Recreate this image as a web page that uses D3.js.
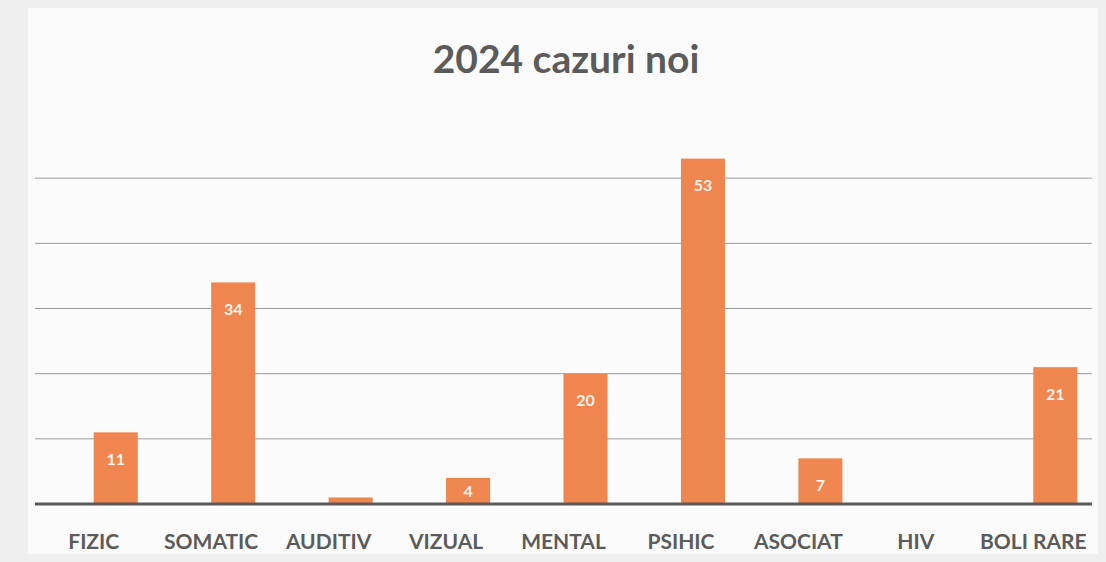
<!DOCTYPE html>
<html>
<head>
<meta charset="utf-8">
<script src="https://cdn.jsdelivr.net/npm/d3@7"></script>
<style>
  body { margin: 0; background: #f3f3f3; }
  svg { display: block; }
</style>
</head>
<body>
<svg id="chart" width="1106" height="562"></svg>
<script>
// date
const categorii = ["FIZIC", "SOMATIC", "AUDITIV", "VIZUAL", "MENTAL", "PSIHIC", "ASOCIAT", "HIV", "BOLI RARE"];
const valori = [11, 34, 1, 4, 20, 53, 7, 0, 21];
const serii = ["gol", "2024"];   // prima serie goala, de aceea barele sunt decalate la dreapta
const yTicks = [10, 20, 30, 40, 50];
const titlu = "2024 cazuri noi";

const svg = d3.select("#chart");
const W = 1106, H = 562;

// fundal scanat
svg.append("rect")
    .attr("width", W).attr("height", H)
    .attr("fill", "#efefef");
svg.append("rect")
    .attr("x", 28).attr("y", 8)
    .attr("width", W - 36).attr("height", H - 16)
    .attr("fill", "#fbfbfb");

const x = d3.scaleBand()
    .domain(categorii)
    .range([35, 1092])
    .paddingInner(0.25)
    .paddingOuter(0.125);

const xSub = d3.scaleBand()
    .domain(serii)
    .range([0, x.bandwidth()]);

const y = d3.scaleLinear()
    .domain([0, 60])
    .range([504, 113]);

// titlu
svg.append("text")
    .attr("x", 566)
    .attr("y", 73)
    .attr("text-anchor", "middle")
    .attr("font-family", "Lato, 'Open Sans', sans-serif")
    .attr("font-weight", "bold")
    .attr("font-size", 39)
    .attr("fill", "#5b5b5b")
    .text(titlu);

// linii de grila
svg.append("g")
    .selectAll("line")
    .data(yTicks)
    .join("line")
    .attr("x1", 35)
    .attr("x2", 1092)
    .attr("y1", d => y(d))
    .attr("y2", d => y(d))
    .attr("stroke", "#9c9c9c")
    .attr("stroke-width", 1);

// bare
const bare = svg.append("g")
    .selectAll("g")
    .data(categorii.map((c, i) => ({name: c, value: valori[i]})))
    .join("g")
    .attr("transform", d => "translate(" + (x(d.name) + xSub("2024")) + ",0)");

bare.filter(d => d.value > 0)
    .append("rect")
    .attr("x", 0)
    .attr("y", d => y(d.value))
    .attr("width", xSub.bandwidth())
    .attr("height", d => y(0) - y(d.value))
    .attr("fill", "#ef8650");

// etichete valori (ascunse cand bara e prea mica)
bare.filter(d => d.value >= 3)
    .append("text")
    .attr("x", xSub.bandwidth() / 2)
    .attr("y", d => Math.min(y(d.value) + 27, y(0) - 13))
    .attr("dy", "0.35em")
    .attr("text-anchor", "middle")
    .attr("font-family", "Lato, 'Open Sans', sans-serif")
    .attr("font-weight", "bold")
    .attr("font-size", 16)
    .attr("fill", "#fdf1ea")
    .text(d => d.value);

// axa x
svg.append("line")
    .attr("x1", 35)
    .attr("x2", 1092)
    .attr("y1", y(0))
    .attr("y2", y(0))
    .attr("stroke", "#5a5a5a")
    .attr("stroke-width", 3);

const xAxis = svg.append("g")
    .attr("transform", "translate(0," + (y(0) + 2) + ")")
    .call(d3.axisBottom(x).tickSize(0));
xAxis.select(".domain").remove();
xAxis.selectAll("text")
    .attr("font-family", "Lato, 'Open Sans', sans-serif")
    .attr("font-weight", "bold")
    .attr("font-size", 21)
    .attr("fill", "#5b5b5b")
    .attr("dy", "0")
    .attr("y", 43);
</script>
</body>
</html>
